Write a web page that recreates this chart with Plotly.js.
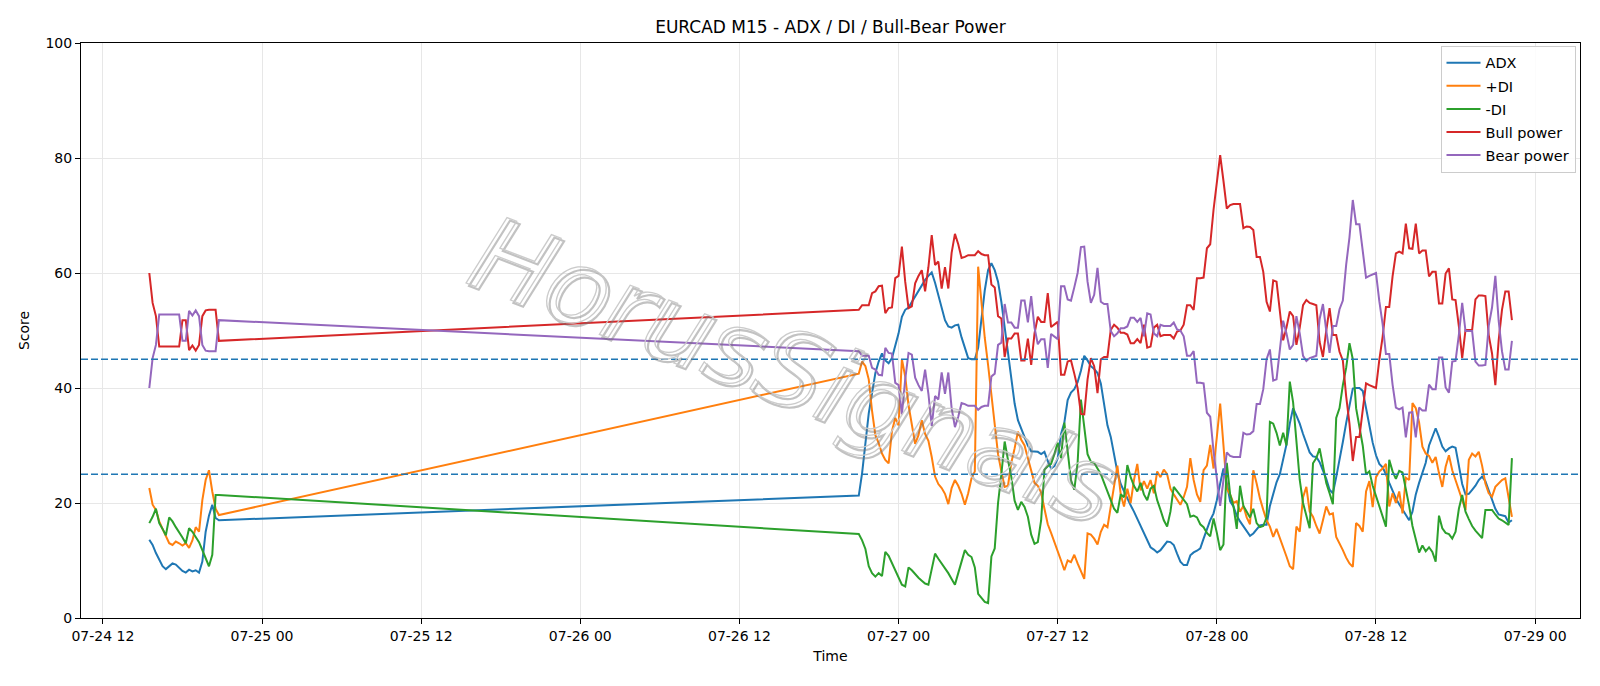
<!DOCTYPE html>
<html>
<head>
<meta charset="utf-8">
<script src="https://cdn.plot.ly/plotly-3.0.1.min.js"></script>
<style>html,body{margin:0;padding:0;background:#fff;}#chart{width:1600px;height:686px;}</style>
</head>
<body>
<div id="chart"></div>
<script>
// ---- data (15-minute bars, two sessions) ----
const seg1Start = "2020-07-24 15:30";
const seg2Start = "2020-07-26 21:00";
const barMinutes = 15;

const adx1  = [13.6,12.7,11.3,10.0,9.0,8.5,9.0,9.5,9.3,8.8,8.2,7.9,8.4,8.1,8.3,7.9,9.8,15.0,17.8,19.7,17.4,17.0];
const pdi1  = [22.6,19.7,18.8,16.8,15.5,14.2,13.0,12.7,13.3,13.0,12.6,13.0,12.2,13.5,15.8,15.0,20.5,24.0,25.7,22.0,19.0,17.9];
const mdi1  = [16.5,17.6,19.0,16.5,15.5,14.4,17.5,16.8,15.8,15.0,14.0,13.0,15.6,15.0,14.0,13.2,11.8,10.3,9.0,11.0,21.4,21.4];
const bull1 = [60.0,54.8,52.5,47.2,47.2,47.2,47.2,47.2,47.2,47.2,51.8,51.8,46.6,47.4,46.5,47.5,52.5,53.5,53.6,53.6,53.6,48.2];
const bear1 = [40.0,45.2,47.5,52.8,52.8,52.8,52.8,52.8,52.8,52.8,48.2,48.2,53.4,52.6,53.5,52.5,47.5,46.5,46.4,46.4,46.4,51.8];

const adx2 = [21.3,25.2,31.0,35.6,39.1,42.6,44.6,46.0,44.8,44.3,45.2,47.2,49.5,52.4,53.6,54.0,
  55.0,55.9,57.0,57.9,58.8,59.5,60.1,58.3,56.0,53.8,51.8,50.7,50.5,50.9,51.0,48.8,46.8,45.2,45.0,
  45.0,47.0,52.0,57.0,60.5,61.7,60.5,58.5,55.0,50.5,45.4,41.4,37.3,34.4,33.0,31.5,30.0,29.0,28.9,28.9,
  28.5,28.9,27.3,26.0,26.4,27.8,32.0,34.0,37.9,39.2,39.8,41.0,43.0,45.6,44.8,43.8,43.3,42.6,
  40.8,37.5,33.5,31.5,28.6,25.4,23.3,22.0,20.8,19.6,18.5,17.3,15.9,14.8,13.4,12.3,11.9,11.4,11.8,
  12.6,13.3,13.2,12.7,11.2,9.8,9.2,9.2,10.9,11.4,11.7,12.1,13.8,15.6,17.0,18.2,20.5,23.4,26.0,23.5,
  20.3,19.4,17.8,16.8,16.0,15.2,14.3,14.7,15.4,16.1,16.2,16.2,19.5,21.8,23.6,25.0,27.8,30.2,33.8,
  36.5,35.2,33.8,32.0,30.2,28.8,28.1,28.0,27.1,25.8,24.2,22.3,21.7,24.5,27.4,30.6,33.9,36.8,39.9,40.0,
  40.0,39.5,36.5,33.8,30.5,28.3,26.8,26.2,25.0,23.5,22.0,20.8,19.8,18.8,18.0,17.0,18.5,21.5,23.5,25.2,
  27.0,30.0,31.5,33.0,31.5,29.8,29.0,29.5,29.8,29.6,26.5,23.3,21.5,21.6,22.3,23.0,24.0,24.6,23.8,22.2,20.3,19.0,18.0,17.9,17.7,16.6,17.0];

const pdi2 = [42.5,44.6,43.8,41.5,36.0,31.8,30.4,28.6,27.5,26.9,32.5,34.8,33.5,45.0,42.0,37.0,
  33.5,30.3,31.8,34.4,32.0,30.8,28.0,24.6,23.3,22.6,21.6,19.8,22.6,24.0,23.0,21.6,19.7,21.7,24.3,
  25.5,61.1,54.5,48.7,44.0,38.5,33.0,28.5,25.5,22.8,23.0,27.0,29.5,32.4,31.0,30.0,27.8,25.5,23.5,23.0,
  21.8,19.0,16.3,14.8,13.3,11.6,10.0,8.3,10.0,9.7,11.0,9.5,8.0,6.8,14.7,14.5,13.8,12.8,
  15.0,16.2,15.8,19.5,23.0,26.5,21.5,19.4,22.5,20.0,24.0,26.8,22.2,23.8,22.5,24.0,21.7,25.5,24.5,
  25.8,25.0,22.5,21.5,20.5,19.7,21.0,22.8,27.8,24.0,21.5,20.2,25.7,26.5,30.1,26.0,31.5,37.3,30.0,22.5,
  21.5,20.0,20.3,18.5,19.5,17.5,16.3,25.7,23.4,20.8,18.8,17.0,15.9,14.1,15.5,14.0,12.4,10.7,9.0,
  8.5,15.9,15.0,21.0,22.8,18.5,17.6,16.0,14.7,17.0,19.4,18.0,18.2,14.1,13.0,11.8,10.5,9.5,8.9,16.5,
  16.0,15.0,22.0,23.8,19.3,24.5,25.5,26.0,26.8,19.4,21.7,20.0,22.0,18.2,24.4,24.0,37.4,36.5,34.0,29.8,
  28.6,28.2,27.0,28.0,25.2,22.8,26.3,28.3,25.7,24.0,22.2,20.5,18.8,27.5,28.6,28.1,28.9,26.5,23.4,21.7,21.1,22.8,23.5,24.0,24.3,21.0,17.6];

const mdi2 = [14.6,13.5,12.0,9.0,7.8,7.2,7.8,7.3,11.5,10.8,9.5,8.5,7.2,5.8,5.5,8.8,
  8.3,7.6,7.0,6.5,6.0,5.8,8.5,11.2,10.3,9.5,8.7,7.8,6.8,5.8,7.8,10.0,11.8,11.0,10.6,
  8.8,4.2,3.5,2.8,2.6,10.7,12.1,20.0,25.0,30.7,27.5,24.6,20.4,18.8,20.2,19.3,17.6,14.5,12.9,13.2,
  17.0,25.8,26.4,26.8,28.5,30.5,27.8,34.0,29.0,24.0,22.3,27.0,38.0,33.0,28.5,27.2,27.0,26.0,
  25.0,23.5,21.8,20.5,19.0,18.3,21.5,21.0,26.6,24.5,23.0,22.0,23.5,21.5,20.5,22.5,23.0,20.5,18.8,
  17.0,15.9,18.5,22.8,22.0,21.2,20.6,19.8,17.6,17.8,17.5,16.3,15.8,14.8,14.2,17.3,14.8,11.8,12.8,27.0,
  21.5,19.5,15.5,23.0,19.5,18.5,17.5,19.0,16.5,15.8,16.0,17.5,34.1,33.8,32.2,30.0,32.2,30.0,41.1,
  37.5,30.5,24.0,20.0,17.8,15.6,26.9,27.8,29.5,26.8,23.5,21.7,19.8,34.8,36.5,40.5,43.5,47.8,45.0,36.5,
  33.0,30.0,25.0,25.5,23.0,21.3,19.5,17.5,15.9,27.5,25.5,24.2,25.6,25.3,22.5,19.5,16.0,13.6,11.4,12.6,
  11.6,12.3,11.5,9.8,17.8,15.6,14.8,14.6,13.8,15.0,19.0,21.4,18.5,17.2,16.0,15.2,14.5,13.9,18.8,18.8,18.8,18.0,17.3,17.0,16.6,16.2,27.8];

const bull2 = [53.6,54.4,54.4,54.4,56.5,56.8,57.7,57.8,53.0,53.9,54.0,59.1,59.5,64.6,58.5,53.9,
  54.2,58.2,59.5,60.5,56.8,61.0,66.6,61.4,62.0,57.3,61.0,57.3,63.5,66.8,65.0,62.6,62.8,63.1,63.1,
  63.1,63.8,63.3,63.1,63.1,58.0,57.5,52.5,52.1,45.4,48.6,48.6,49.5,49.5,44.8,44.8,48.6,44.0,49.5,52.4,
  51.5,51.5,56.5,50.6,51.0,51.5,42.3,42.3,44.6,44.8,42.5,40.0,35.5,35.4,41.5,45.2,43.8,39.1,
  45.0,45.4,45.4,50.1,51.0,50.5,49.6,49.6,49.3,47.8,47.8,48.5,47.8,51.0,47.0,47.2,50.5,51.0,49.0,
  49.2,49.2,49.2,48.6,49.8,50.0,51.0,54.4,54.4,53.6,59.1,59.1,59.2,64.3,65.0,71.0,76.0,80.5,76.0,71.2,
  71.8,72.0,72.0,72.0,67.8,68.1,68.0,67.5,62.8,62.8,60.2,55.0,53.3,58.7,58.5,53.0,48.3,50.5,53.3,
  52.5,47.5,50.5,54.4,55.3,54.8,54.6,54.4,48.0,45.4,50.0,53.9,49.2,49.2,46.3,44.8,38.6,33.8,27.3,31.5,
  31.5,36.0,40.8,40.5,40.3,40.0,44.9,48.9,54.1,54.1,59.4,63.4,63.7,63.4,68.6,64.3,64.2,68.6,63.4,63.9,
  63.9,59.4,60.2,60.2,54.7,54.7,59.9,60.8,55.4,55.3,50.7,45.2,50.1,50.1,50.1,55.4,56.1,56.1,56.0,49.2,46.0,40.5,48.3,53.6,56.8,56.8,51.8];

const bear2 = [46.4,45.6,45.6,45.6,43.5,43.2,42.3,42.2,47.0,46.1,46.0,40.9,40.5,35.4,41.5,46.1,
  45.8,41.8,40.5,39.5,43.2,39.0,33.4,38.6,38.0,42.7,39.0,42.7,36.5,33.2,35.0,37.4,37.2,36.9,36.9,
  36.9,36.2,36.7,36.9,36.9,42.0,42.5,47.5,47.9,54.6,51.4,51.4,50.5,50.5,55.2,55.2,51.4,56.0,50.5,47.6,
  48.5,48.5,43.5,49.4,49.0,48.5,57.7,57.7,55.4,55.2,57.5,60.0,64.5,64.6,58.5,54.8,56.2,60.9,
  55.0,54.6,54.6,49.9,49.0,49.5,50.4,50.4,50.7,52.2,52.2,51.5,52.2,49.0,53.0,52.8,49.5,49.0,51.0,
  50.8,50.8,50.8,51.4,50.2,50.0,49.0,45.6,45.6,46.4,40.9,40.9,40.8,35.7,35.0,29.0,24.0,19.5,24.0,28.8,
  28.2,28.0,28.0,28.0,32.2,31.9,32.0,32.5,37.2,37.2,39.8,45.0,46.7,41.3,41.5,47.0,51.7,49.5,46.7,
  47.5,52.5,49.5,45.6,44.7,45.2,45.4,45.6,52.0,54.6,50.0,46.1,50.8,50.8,53.7,55.2,61.4,66.2,72.7,68.5,
  68.5,64.0,59.2,59.5,59.7,60.0,55.1,51.1,45.9,45.9,40.6,36.6,36.3,36.6,31.4,35.7,35.8,31.4,36.6,36.1,
  36.1,40.6,39.8,39.8,45.3,45.3,40.1,39.2,44.6,44.7,49.3,54.8,49.9,49.9,49.9,44.6,43.9,43.9,44.0,50.8,54.0,59.5,51.7,46.4,43.2,43.2,48.2];

const seriesNames  = ["ADX", "+DI", "-DI", "Bull power", "Bear power"];
const seriesColors = ["#1f77b4", "#ff7f0e", "#2ca02c", "#d62728", "#9467bd"];
const thresholds   = [25, 45];
const watermark    = "HorusSignals";

// ---- time axis built from bar start + 15-minute steps ----
function parseUTC(s) {
  const [d, t] = s.split(" ");
  const [Y, M, D] = d.split("-").map(Number);
  const [h, m] = t.split(":").map(Number);
  return Date.UTC(Y, M - 1, D, h, m);
}
function fmt(ms) {
  const d = new Date(ms), p = n => String(n).padStart(2, "0");
  return d.getUTCFullYear() + "-" + p(d.getUTCMonth() + 1) + "-" + p(d.getUTCDate()) + " " + p(d.getUTCHours()) + ":" + p(d.getUTCMinutes());
}
function times(start, n) {
  const t0 = parseUTC(start), out = [];
  for (let i = 0; i < n; i++) out.push(fmt(t0 + i * barMinutes * 60000));
  return out;
}
const x = times(seg1Start, adx1.length).concat(times(seg2Start, adx2.length));
const ys = [adx1.concat(adx2), pdi1.concat(pdi2), mdi1.concat(mdi2), bull1.concat(bull2), bear1.concat(bear2)];

const traces = ys.map((y, k) => ({
  type: "scatter", mode: "lines", x: x, y: y, name: seriesNames[k],
  legendgroup: "g" + k,
  line: { color: seriesColors[k], width: 2 }
}));

const tMin = parseUTC(x[0]), tMax = parseUTC(x[x.length - 1]), pad = (tMax - tMin) * 0.05;
const FONT = "DejaVu Sans, Arial, sans-serif";

const axisCommon = {
  showline: true, linecolor: "#000", linewidth: 1, mirror: true,
  ticks: "outside", ticklen: 5, tickwidth: 1, tickcolor: "#000",
  showgrid: true, gridcolor: "#e7e7e7", gridwidth: 1, zeroline: false,
  tickfont: { family: FONT, size: 14, color: "#000" }
};

const wmCommon = { text: watermark, xref: "paper", yref: "paper", x: 0.475, y: 0.432,
                   showarrow: false, textangle: 21 };

const layout = {
  width: 1600, height: 686,
  margin: { l: 81, r: 20, t: 43, b: 68 },
  paper_bgcolor: "#fff", plot_bgcolor: "#fff",
  font: { family: FONT, color: "#000" },
  title: { text: "EURCAD M15 - ADX / DI / Bull-Bear Power", font: { family: FONT, size: 17, color: "#000" },
           x: 0.5, xref: "paper", xanchor: "center", y: 1 - 27 / 686, yref: "container", yanchor: "middle" },
  xaxis: Object.assign({}, axisCommon, {
    type: "date", range: [fmt(tMin - pad), fmt(tMax + pad)],
    tick0: "2020-07-24 12:00", dtick: 12 * 3600 * 1000, tickformat: "%m-%d %H",
    title: { text: "Time", font: { family: FONT, size: 14, color: "#000" }, standoff: 8 }
  }),
  yaxis: Object.assign({}, axisCommon, {
    range: [0, 100], tick0: 0, dtick: 20,
    title: { text: "Score", font: { family: FONT, size: 14, color: "#000" }, standoff: 12 }
  }),
  legend: {
    x: 0.997, xanchor: "right", y: 0.995, yanchor: "top",
    bgcolor: "rgba(255,255,255,0.85)", bordercolor: "#cccccc", borderwidth: 1,
    font: { family: FONT, size: 14.5, color: "#000" }, tracegroupgap: 1.2, itemwidth: 34
  },
  shapes: thresholds.map(v => ({
    type: "line", xref: "paper", x0: 0, x1: 1, yref: "y", y0: v, y1: v,
    line: { color: "#1f77b4", width: 1.4, dash: "7px,3px" }, layer: "above"
  })),
  annotations: [
    Object.assign({}, wmCommon, { xshift: 3, yshift: -3,
      font: { family: "DejaVu Sans", size: 104, color: "rgb(150,150,150)", style: "italic" } }),
    Object.assign({}, wmCommon, {
      font: { family: "DejaVu Sans", size: 104, color: "rgb(205,205,205)", style: "italic" } })
  ]
};

Plotly.newPlot("chart", traces, layout, { displayModeBar: false, staticPlot: true }).then(gd => {
  // watermark drawn as outlined (hollow) lettering
  const txt = gd.querySelectorAll(".annotation-text");
  const strokes = [["rgba(120,120,120,0.45)", 2.2], ["rgba(200,200,200,0.95)", 1.3]];
  txt.forEach((el, i) => {
    const s = strokes[Math.min(i, 1)];
    el.style.fill = "none";
    el.style.stroke = s[0];
    el.style.strokeWidth = s[1];
  });
});
</script>
</body>
</html>
